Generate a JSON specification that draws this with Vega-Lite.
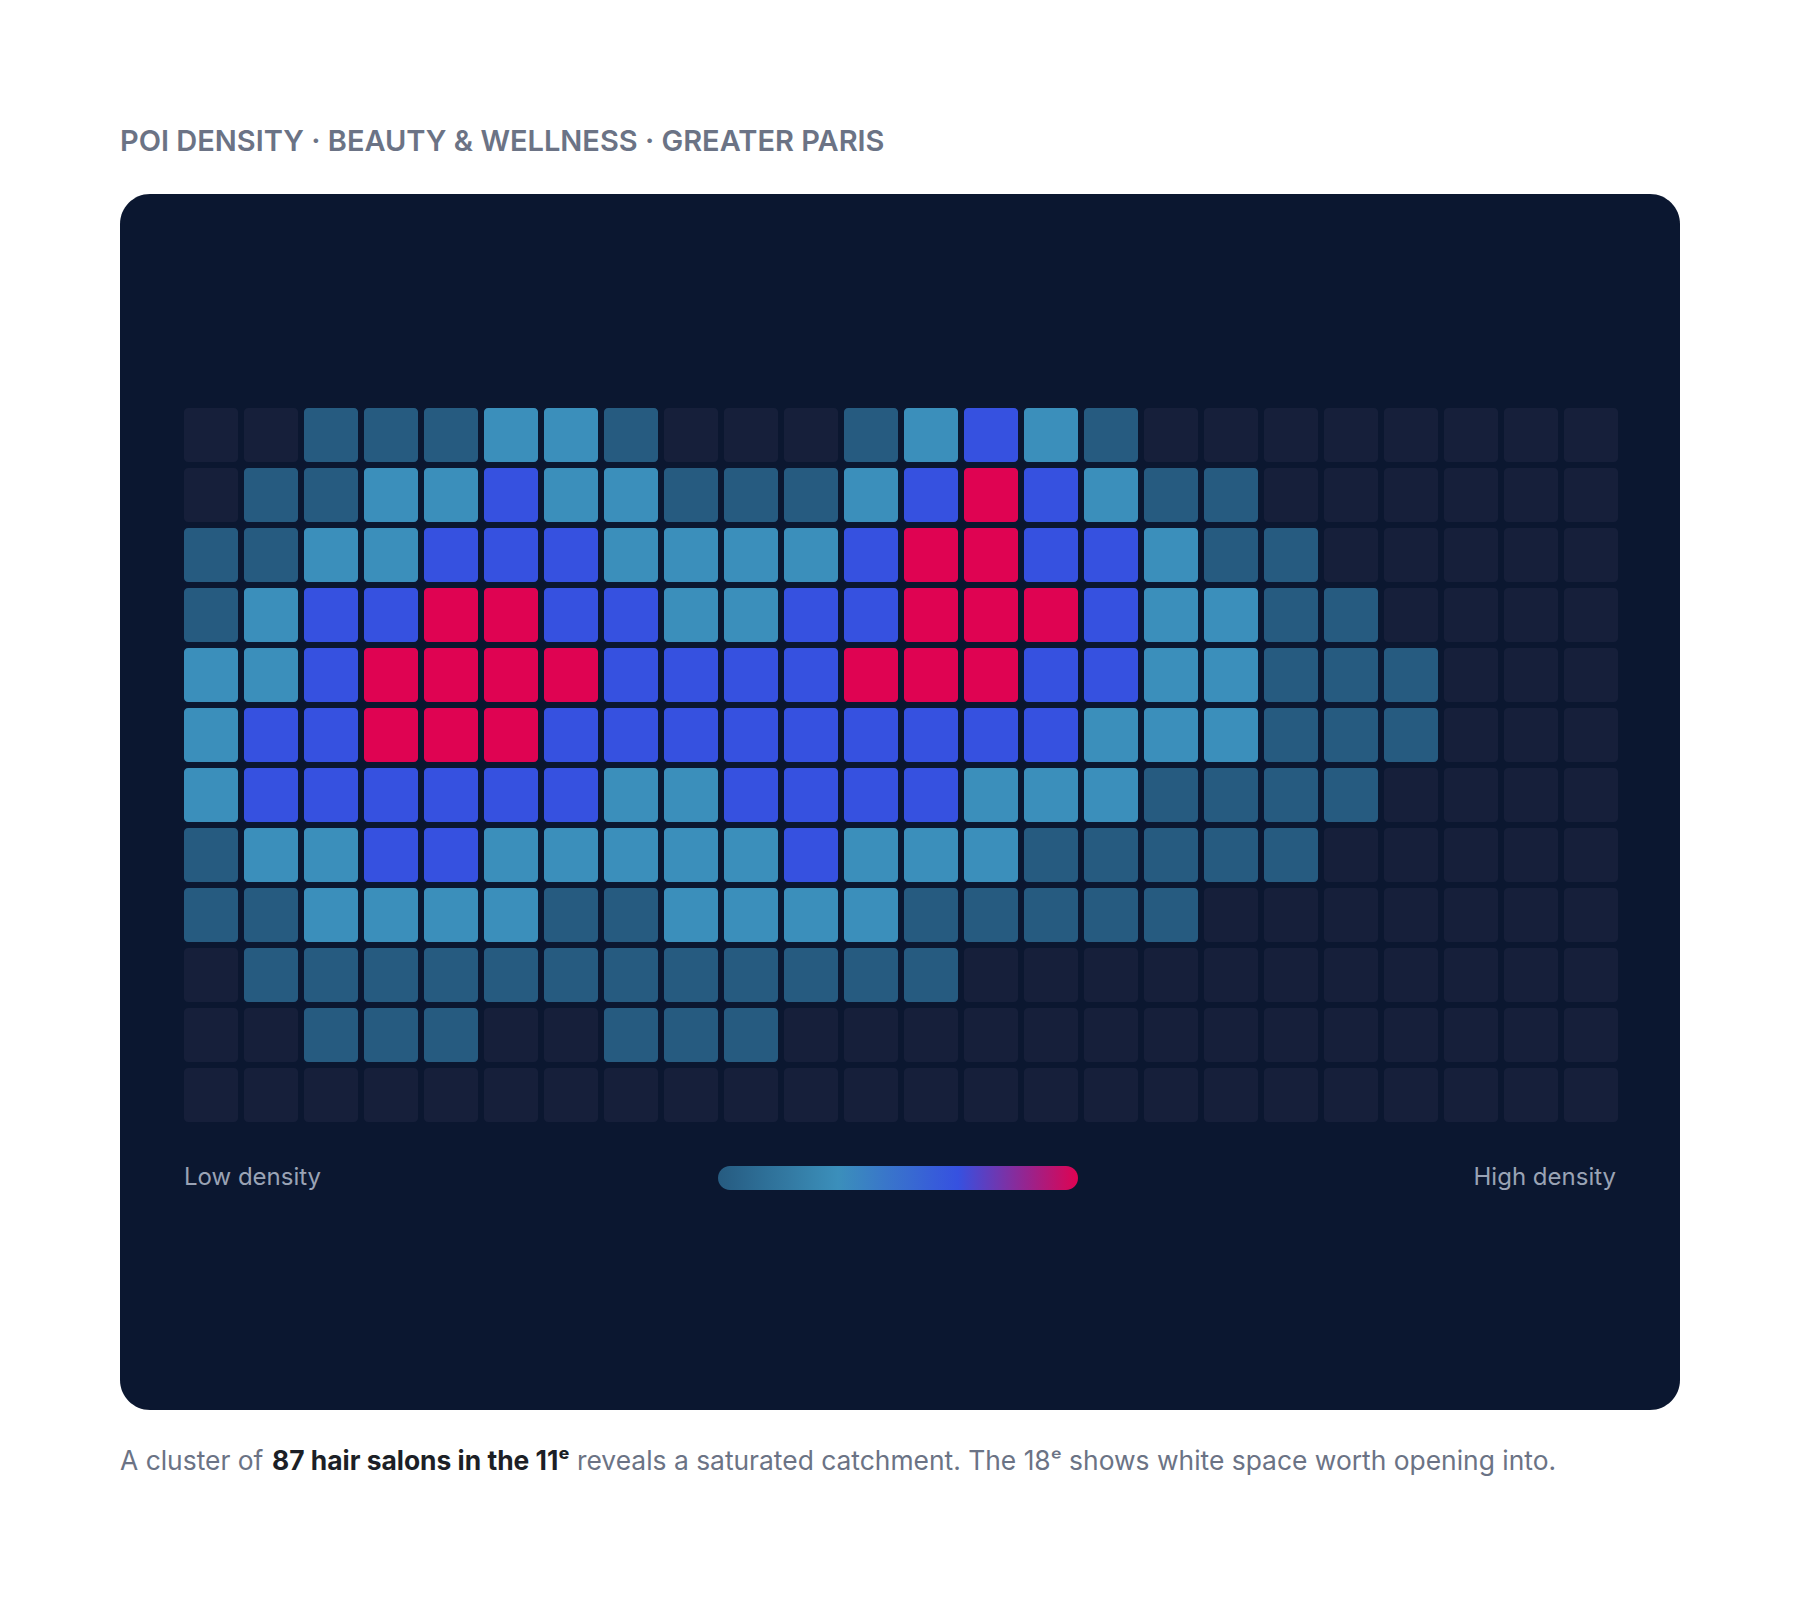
{
  "$schema": "https://vega.github.io/schema/vega-lite/v6.json",
  "width": 1560,
  "height": 1216,
  "autosize": {"type": "none"},
  "padding": {"left": 120, "top": 194, "right": 120, "bottom": 190},
  "background": "#ffffff",
  "config": {
    "view": {"fill": "#0b1730", "stroke": null, "cornerRadius": 30},
    "font": "Inter"
  },
  "title": {
    "text": "POI DENSITY · BEAUTY & WELLNESS · GREATER PARIS",
    "anchor": "start",
    "frame": "group",
    "orient": "top",
    "offset": 14,
    "baseline": "alphabetic",
    "font": "Inter",
    "fontSize": 29,
    "fontWeight": 600,
    "color": "#6b7385"
  },
  "datasets": {
    "grid": [
      {"row":0,"col":0,"level":0},{"row":0,"col":1,"level":0},{"row":0,"col":2,"level":1},{"row":0,"col":3,"level":1},{"row":0,"col":4,"level":1},{"row":0,"col":5,"level":2},{"row":0,"col":6,"level":2},{"row":0,"col":7,"level":1},{"row":0,"col":8,"level":0},{"row":0,"col":9,"level":0},{"row":0,"col":10,"level":0},{"row":0,"col":11,"level":1},{"row":0,"col":12,"level":2},{"row":0,"col":13,"level":3},{"row":0,"col":14,"level":2},{"row":0,"col":15,"level":1},{"row":0,"col":16,"level":0},{"row":0,"col":17,"level":0},{"row":0,"col":18,"level":0},{"row":0,"col":19,"level":0},{"row":0,"col":20,"level":0},{"row":0,"col":21,"level":0},{"row":0,"col":22,"level":0},{"row":0,"col":23,"level":0},
      {"row":1,"col":0,"level":0},{"row":1,"col":1,"level":1},{"row":1,"col":2,"level":1},{"row":1,"col":3,"level":2},{"row":1,"col":4,"level":2},{"row":1,"col":5,"level":3},{"row":1,"col":6,"level":2},{"row":1,"col":7,"level":2},{"row":1,"col":8,"level":1},{"row":1,"col":9,"level":1},{"row":1,"col":10,"level":1},{"row":1,"col":11,"level":2},{"row":1,"col":12,"level":3},{"row":1,"col":13,"level":4},{"row":1,"col":14,"level":3},{"row":1,"col":15,"level":2},{"row":1,"col":16,"level":1},{"row":1,"col":17,"level":1},{"row":1,"col":18,"level":0},{"row":1,"col":19,"level":0},{"row":1,"col":20,"level":0},{"row":1,"col":21,"level":0},{"row":1,"col":22,"level":0},{"row":1,"col":23,"level":0},
      {"row":2,"col":0,"level":1},{"row":2,"col":1,"level":1},{"row":2,"col":2,"level":2},{"row":2,"col":3,"level":2},{"row":2,"col":4,"level":3},{"row":2,"col":5,"level":3},{"row":2,"col":6,"level":3},{"row":2,"col":7,"level":2},{"row":2,"col":8,"level":2},{"row":2,"col":9,"level":2},{"row":2,"col":10,"level":2},{"row":2,"col":11,"level":3},{"row":2,"col":12,"level":4},{"row":2,"col":13,"level":4},{"row":2,"col":14,"level":3},{"row":2,"col":15,"level":3},{"row":2,"col":16,"level":2},{"row":2,"col":17,"level":1},{"row":2,"col":18,"level":1},{"row":2,"col":19,"level":0},{"row":2,"col":20,"level":0},{"row":2,"col":21,"level":0},{"row":2,"col":22,"level":0},{"row":2,"col":23,"level":0},
      {"row":3,"col":0,"level":1},{"row":3,"col":1,"level":2},{"row":3,"col":2,"level":3},{"row":3,"col":3,"level":3},{"row":3,"col":4,"level":4},{"row":3,"col":5,"level":4},{"row":3,"col":6,"level":3},{"row":3,"col":7,"level":3},{"row":3,"col":8,"level":2},{"row":3,"col":9,"level":2},{"row":3,"col":10,"level":3},{"row":3,"col":11,"level":3},{"row":3,"col":12,"level":4},{"row":3,"col":13,"level":4},{"row":3,"col":14,"level":4},{"row":3,"col":15,"level":3},{"row":3,"col":16,"level":2},{"row":3,"col":17,"level":2},{"row":3,"col":18,"level":1},{"row":3,"col":19,"level":1},{"row":3,"col":20,"level":0},{"row":3,"col":21,"level":0},{"row":3,"col":22,"level":0},{"row":3,"col":23,"level":0},
      {"row":4,"col":0,"level":2},{"row":4,"col":1,"level":2},{"row":4,"col":2,"level":3},{"row":4,"col":3,"level":4},{"row":4,"col":4,"level":4},{"row":4,"col":5,"level":4},{"row":4,"col":6,"level":4},{"row":4,"col":7,"level":3},{"row":4,"col":8,"level":3},{"row":4,"col":9,"level":3},{"row":4,"col":10,"level":3},{"row":4,"col":11,"level":4},{"row":4,"col":12,"level":4},{"row":4,"col":13,"level":4},{"row":4,"col":14,"level":3},{"row":4,"col":15,"level":3},{"row":4,"col":16,"level":2},{"row":4,"col":17,"level":2},{"row":4,"col":18,"level":1},{"row":4,"col":19,"level":1},{"row":4,"col":20,"level":1},{"row":4,"col":21,"level":0},{"row":4,"col":22,"level":0},{"row":4,"col":23,"level":0},
      {"row":5,"col":0,"level":2},{"row":5,"col":1,"level":3},{"row":5,"col":2,"level":3},{"row":5,"col":3,"level":4},{"row":5,"col":4,"level":4},{"row":5,"col":5,"level":4},{"row":5,"col":6,"level":3},{"row":5,"col":7,"level":3},{"row":5,"col":8,"level":3},{"row":5,"col":9,"level":3},{"row":5,"col":10,"level":3},{"row":5,"col":11,"level":3},{"row":5,"col":12,"level":3},{"row":5,"col":13,"level":3},{"row":5,"col":14,"level":3},{"row":5,"col":15,"level":2},{"row":5,"col":16,"level":2},{"row":5,"col":17,"level":2},{"row":5,"col":18,"level":1},{"row":5,"col":19,"level":1},{"row":5,"col":20,"level":1},{"row":5,"col":21,"level":0},{"row":5,"col":22,"level":0},{"row":5,"col":23,"level":0},
      {"row":6,"col":0,"level":2},{"row":6,"col":1,"level":3},{"row":6,"col":2,"level":3},{"row":6,"col":3,"level":3},{"row":6,"col":4,"level":3},{"row":6,"col":5,"level":3},{"row":6,"col":6,"level":3},{"row":6,"col":7,"level":2},{"row":6,"col":8,"level":2},{"row":6,"col":9,"level":3},{"row":6,"col":10,"level":3},{"row":6,"col":11,"level":3},{"row":6,"col":12,"level":3},{"row":6,"col":13,"level":2},{"row":6,"col":14,"level":2},{"row":6,"col":15,"level":2},{"row":6,"col":16,"level":1},{"row":6,"col":17,"level":1},{"row":6,"col":18,"level":1},{"row":6,"col":19,"level":1},{"row":6,"col":20,"level":0},{"row":6,"col":21,"level":0},{"row":6,"col":22,"level":0},{"row":6,"col":23,"level":0},
      {"row":7,"col":0,"level":1},{"row":7,"col":1,"level":2},{"row":7,"col":2,"level":2},{"row":7,"col":3,"level":3},{"row":7,"col":4,"level":3},{"row":7,"col":5,"level":2},{"row":7,"col":6,"level":2},{"row":7,"col":7,"level":2},{"row":7,"col":8,"level":2},{"row":7,"col":9,"level":2},{"row":7,"col":10,"level":3},{"row":7,"col":11,"level":2},{"row":7,"col":12,"level":2},{"row":7,"col":13,"level":2},{"row":7,"col":14,"level":1},{"row":7,"col":15,"level":1},{"row":7,"col":16,"level":1},{"row":7,"col":17,"level":1},{"row":7,"col":18,"level":1},{"row":7,"col":19,"level":0},{"row":7,"col":20,"level":0},{"row":7,"col":21,"level":0},{"row":7,"col":22,"level":0},{"row":7,"col":23,"level":0},
      {"row":8,"col":0,"level":1},{"row":8,"col":1,"level":1},{"row":8,"col":2,"level":2},{"row":8,"col":3,"level":2},{"row":8,"col":4,"level":2},{"row":8,"col":5,"level":2},{"row":8,"col":6,"level":1},{"row":8,"col":7,"level":1},{"row":8,"col":8,"level":2},{"row":8,"col":9,"level":2},{"row":8,"col":10,"level":2},{"row":8,"col":11,"level":2},{"row":8,"col":12,"level":1},{"row":8,"col":13,"level":1},{"row":8,"col":14,"level":1},{"row":8,"col":15,"level":1},{"row":8,"col":16,"level":1},{"row":8,"col":17,"level":0},{"row":8,"col":18,"level":0},{"row":8,"col":19,"level":0},{"row":8,"col":20,"level":0},{"row":8,"col":21,"level":0},{"row":8,"col":22,"level":0},{"row":8,"col":23,"level":0},
      {"row":9,"col":0,"level":0},{"row":9,"col":1,"level":1},{"row":9,"col":2,"level":1},{"row":9,"col":3,"level":1},{"row":9,"col":4,"level":1},{"row":9,"col":5,"level":1},{"row":9,"col":6,"level":1},{"row":9,"col":7,"level":1},{"row":9,"col":8,"level":1},{"row":9,"col":9,"level":1},{"row":9,"col":10,"level":1},{"row":9,"col":11,"level":1},{"row":9,"col":12,"level":1},{"row":9,"col":13,"level":0},{"row":9,"col":14,"level":0},{"row":9,"col":15,"level":0},{"row":9,"col":16,"level":0},{"row":9,"col":17,"level":0},{"row":9,"col":18,"level":0},{"row":9,"col":19,"level":0},{"row":9,"col":20,"level":0},{"row":9,"col":21,"level":0},{"row":9,"col":22,"level":0},{"row":9,"col":23,"level":0},
      {"row":10,"col":0,"level":0},{"row":10,"col":1,"level":0},{"row":10,"col":2,"level":1},{"row":10,"col":3,"level":1},{"row":10,"col":4,"level":1},{"row":10,"col":5,"level":0},{"row":10,"col":6,"level":0},{"row":10,"col":7,"level":1},{"row":10,"col":8,"level":1},{"row":10,"col":9,"level":1},{"row":10,"col":10,"level":0},{"row":10,"col":11,"level":0},{"row":10,"col":12,"level":0},{"row":10,"col":13,"level":0},{"row":10,"col":14,"level":0},{"row":10,"col":15,"level":0},{"row":10,"col":16,"level":0},{"row":10,"col":17,"level":0},{"row":10,"col":18,"level":0},{"row":10,"col":19,"level":0},{"row":10,"col":20,"level":0},{"row":10,"col":21,"level":0},{"row":10,"col":22,"level":0},{"row":10,"col":23,"level":0},
      {"row":11,"col":0,"level":0},{"row":11,"col":1,"level":0},{"row":11,"col":2,"level":0},{"row":11,"col":3,"level":0},{"row":11,"col":4,"level":0},{"row":11,"col":5,"level":0},{"row":11,"col":6,"level":0},{"row":11,"col":7,"level":0},{"row":11,"col":8,"level":0},{"row":11,"col":9,"level":0},{"row":11,"col":10,"level":0},{"row":11,"col":11,"level":0},{"row":11,"col":12,"level":0},{"row":11,"col":13,"level":0},{"row":11,"col":14,"level":0},{"row":11,"col":15,"level":0},{"row":11,"col":16,"level":0},{"row":11,"col":17,"level":0},{"row":11,"col":18,"level":0},{"row":11,"col":19,"level":0},{"row":11,"col":20,"level":0},{"row":11,"col":21,"level":0},{"row":11,"col":22,"level":0},{"row":11,"col":23,"level":0}
    ]
  },
  "layer": [
    {
      "data": {"name": "grid"},
      "mark": {"type": "rect", "cornerRadius": 4},
      "encoding": {
        "x": {"field": "col", "type": "ordinal", "axis": null,
              "scale": {"range": [64, 1498], "paddingInner": 0.1, "paddingOuter": 0}},
        "y": {"field": "row", "type": "ordinal", "axis": null,
              "scale": {"range": [214, 928], "paddingInner": 0.1, "paddingOuter": 0}},
        "color": {
          "condition": {"test": "datum.level === 0", "value": "#161f3a"},
          "field": "level", "type": "quantitative",
          "scale": {"domain": [1, 2, 3, 4], "range": ["#265b80", "#3b8fbb", "#3651e0", "#df0352"], "interpolate": "rgb"},
          "legend": {
            "orient": "none", "legendX": 598, "legendY": 972,
            "direction": "horizontal", "gradientLength": 360, "gradientThickness": 24,
            "gradientStrokeWidth": 0, "title": null, "labelExpr": "''", "labelOpacity": 0,
            "encode": {"gradient": {"update": {"cornerRadius": {"value": 12}}}}
          }
        }
      }
    },
    {
      "data": {"values": [{"label": "Low density"}]},
      "mark": {"type": "text", "align": "left", "baseline": "middle", "font": "Inter", "fontSize": 24, "color": "#9aa3b5"},
      "encoding": {"text": {"field": "label"}, "x": {"value": 64}, "y": {"value": 984}}
    },
    {
      "data": {"values": [{"label": "High density"}]},
      "mark": {"type": "text", "align": "right", "baseline": "middle", "font": "Inter", "fontSize": 24, "color": "#9aa3b5"},
      "encoding": {"text": {"field": "label"}, "x": {"value": 1496}, "y": {"value": 984}}
    },
    {
      "data": {"values": [{"label": "A cluster of"}]},
      "mark": {"type": "text", "align": "left", "baseline": "alphabetic", "font": "Inter", "fontSize": 26.4, "color": "#6b7385"},
      "encoding": {"text": {"field": "label"}, "x": {"value": 0}, "y": {"value": 1276}}
    },
    {
      "data": {"values": [{"label": "87 hair salons in the 11ᵉ"}]},
      "mark": {"type": "text", "align": "left", "baseline": "alphabetic", "font": "Inter", "fontSize": 26.4, "fontWeight": 700, "color": "#1c1f26"},
      "encoding": {"text": {"field": "label"}, "x": {"value": 152}, "y": {"value": 1276}}
    },
    {
      "data": {"values": [{"label": "reveals a saturated catchment. The 18ᵉ shows white space worth opening into."}]},
      "mark": {"type": "text", "align": "left", "baseline": "alphabetic", "font": "Inter", "fontSize": 26.4, "color": "#6b7385"},
      "encoding": {"text": {"field": "label"}, "x": {"value": 457}, "y": {"value": 1276}}
    }
  ]
}
